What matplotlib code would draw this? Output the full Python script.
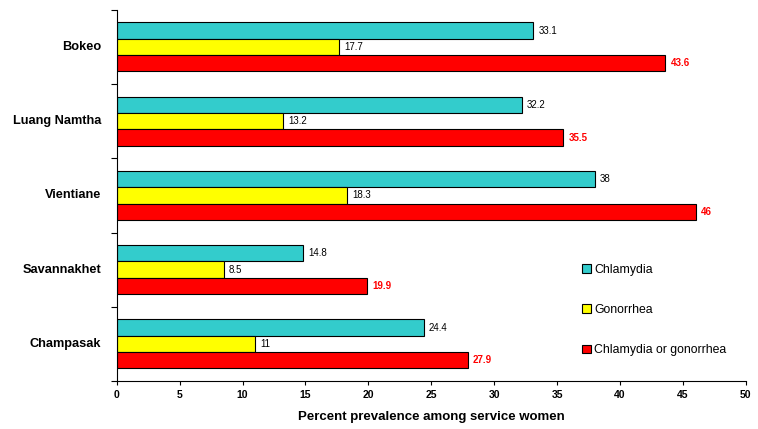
import matplotlib
matplotlib.use("Agg")
matplotlib.rcParams["font.family"] = ["Liberation Sans", "DejaVu Sans"]
import matplotlib.pyplot as plt
import numpy as np

provinces = ["Bokeo", "Luang Namtha", "Vientiane", "Savannakhet", "Champasak"]
chlamydia = [33.1, 32.2, 38, 14.8, 24.4]
gonorrhea = [17.7, 13.2, 18.3, 8.5, 11]
either = [43.6, 35.5, 46, 19.9, 27.9]
series_names = ["Chlamydia", "Gonorrhea", "Chlamydia or gonorrhea"]
colors = ["#33CCCC", "#FFFF00", "#FF0000"]

fig = plt.figure(figsize=(7.58, 4.29), dpi=100)
ax = fig.add_axes([0.154, 0.112, 0.83, 0.865])

y = np.arange(len(provinces))
h = 0.22
offsets = [-h, 0, h]
series = [chlamydia, gonorrhea, either]
for vals, off, col, name in zip(series, offsets, colors, series_names):
    ax.barh(y + off, vals, height=h, color=col, edgecolor="black",
            linewidth=0.8, label=name)
    for yi, v in zip(y, vals):
        txt = f"{v:g}"
        if name == "Chlamydia or gonorrhea":
            ax.text(v + 0.4, yi + off, txt, va="center", ha="left",
                    fontsize=7, color="red", fontweight="bold")
        else:
            ax.text(v + 0.4, yi + off, txt, va="center", ha="left",
                    fontsize=7, color="black")

ax.set_ylim(len(provinces) - 0.5, -0.5)
ax.set_xlim(0, 50)
ax.set_xticks(np.arange(0, 51, 5))
ax.set_xticklabels([str(t) for t in range(0, 51, 5)], fontsize=7.5, fontweight="bold")
ax.set_yticks(np.arange(-0.5, len(provinces), 1))
ax.set_yticklabels([])
ax.tick_params(axis="y", length=4, direction="out")
ax.tick_params(axis="x", length=3, direction="out")
for yi, name in zip(y, provinces):
    ax.text(-0.025, yi, name, transform=ax.get_yaxis_transform(),
            ha="right", va="center", fontsize=9.2, fontweight="bold")
ax.set_xlabel("Percent prevalence among service women", fontsize=9.5,
              fontweight="bold", labelpad=8)

ax.spines["top"].set_visible(False)
ax.spines["right"].set_visible(False)

ax.legend(loc="upper left", bbox_to_anchor=(0.722, 0.345), frameon=False,
          fontsize=8.8, labelspacing=2.3, handlelength=0.7, handleheight=0.7,
          handletextpad=0.3)

fig.savefig("out.png", dpi=100)
